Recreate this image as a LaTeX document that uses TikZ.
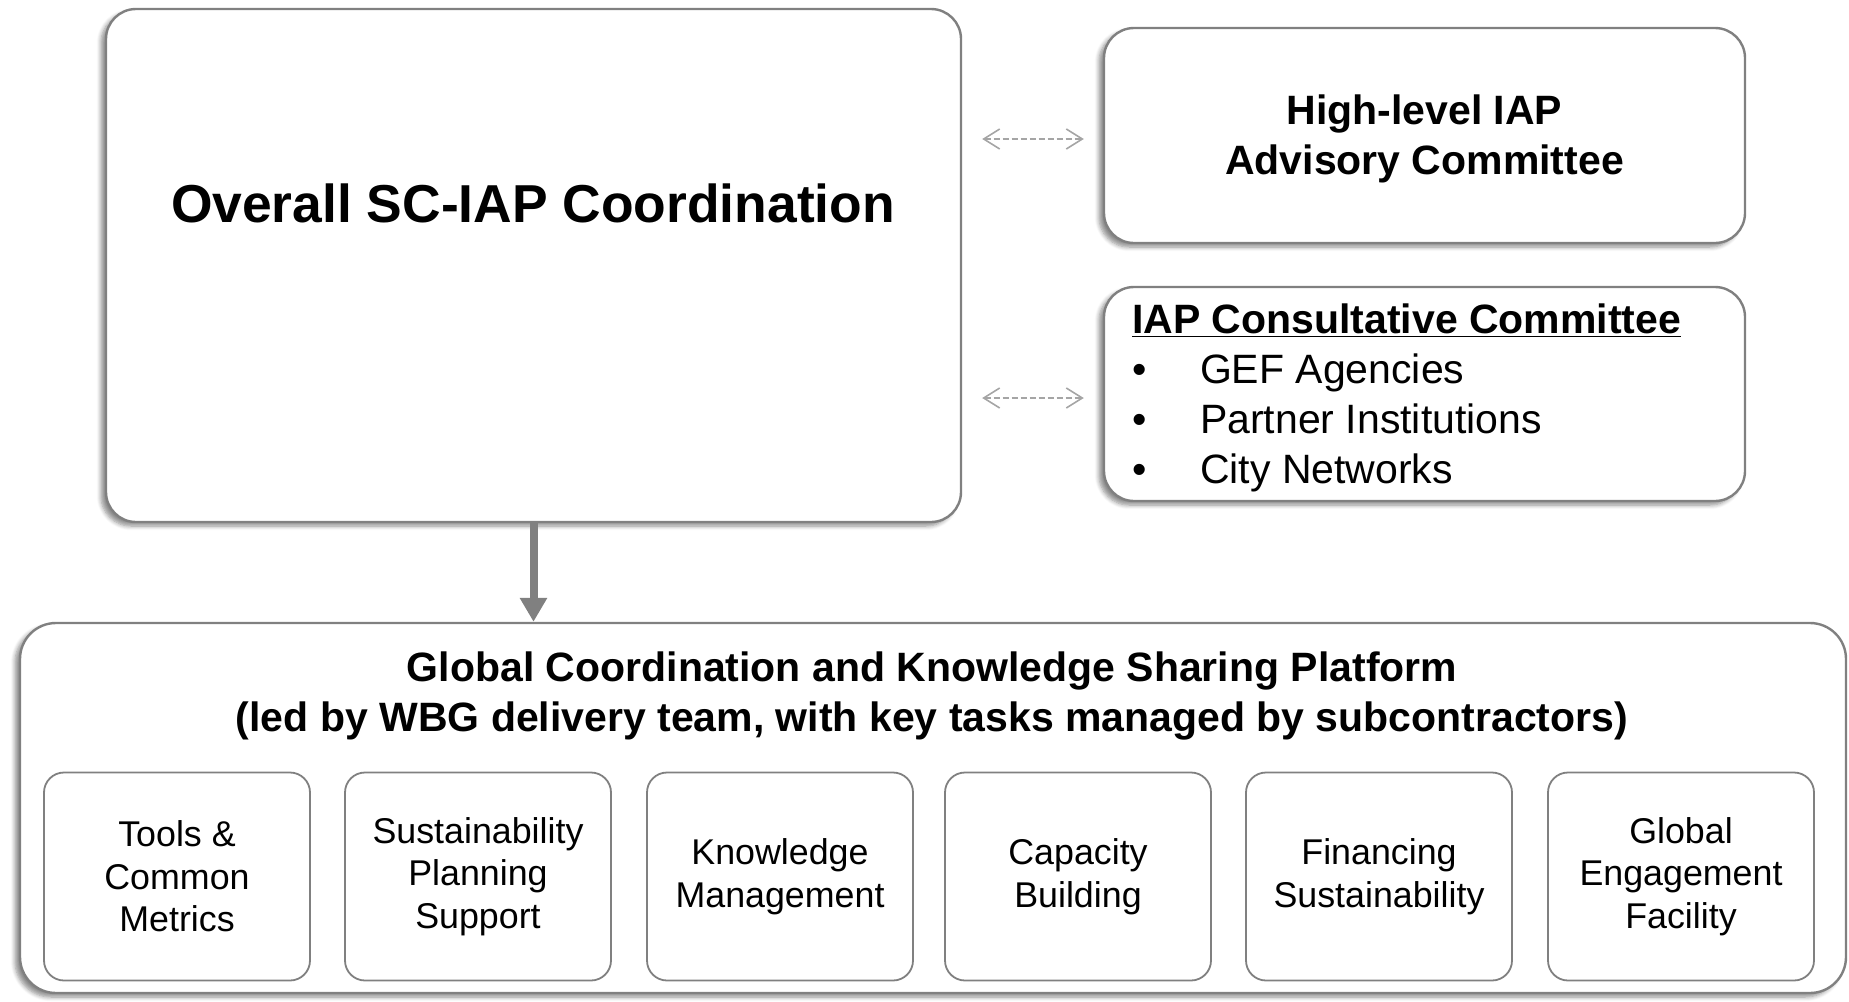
\documentclass[tikz,border=0pt]{standalone}
\usepackage{fontspec}
\setmainfont{Liberation Sans}
\usetikzlibrary{arrows.meta,positioning,shadows.blur}
\definecolor{edgegray}{RGB}{128,128,128}
\definecolor{dashgray}{RGB}{165,165,165}

\begin{document}
\begin{tikzpicture}[
  x=0.5pt, y=-0.5pt,
  panel/.style={draw=edgegray, line width=1.2pt, rounded corners=15pt, fill=white,
    blur shadow={shadow xshift=-2.5pt, shadow yshift=-2pt, shadow opacity=45, shadow blur steps=6}},
  task/.style={draw=edgegray, line width=0.9pt, rounded corners=10pt, minimum width=133pt,
    minimum height=104pt, align=center, font=\fontsize{17.9}{21.25}\selectfont},
  link/.style={{Straight Barb[length=8pt,width=10pt]}-{Straight Barb[length=8pt,width=10pt]},
    dash pattern=on 3pt off 1.5pt, dashgray, line width=0.8pt},
  feed/.style={-{Triangle[length=12pt,width=13pt]}, edgegray, line width=4pt},
  lab/.style={font=\fontsize{20.5}{25}\selectfont\bfseries, align=center}
]
\useasboundingbox (0,0) rectangle (1849,1002);

% Coordination box
\node[panel, minimum width=427.5pt, minimum height=256.5pt] (coord) at (533.5,265.5) {};
\node[font=\fontsize{26.7}{32}\selectfont\bfseries] (coordtitle) at (533,203) {Overall SC-IAP Coordination};

% Committees
\node[panel, minimum width=320.5pt, minimum height=107.5pt] (advisory) at (1424.5,135.5) {};
\node[lab] (advisorytext) at (1424.5,139) {High-level IAP\\Advisory Committee};

\node[panel, minimum width=320.5pt, minimum height=107pt] (consult) at (1424.5,394) {};
\node[anchor=west, align=left, font=\fontsize{20.5}{25}\selectfont] (members) at (1125,398)
{{\bfseries\underline{IAP Consultative Committee}}\\
\makebox[34pt][l]{\textbullet}GEF Agencies\\
\makebox[34pt][l]{\textbullet}Partner Institutions\\
\makebox[34pt][l]{\textbullet}City Networks};

% Links between coordination and committees
\draw[link, shorten <=10pt, shorten >=9.5pt] (coord.east |- advisorytext) -- (advisory.west |- advisorytext);
\draw[link, shorten <=10pt, shorten >=9.5pt] (coord.east |- members.west) -- (consult.west |- members.west);

% Platform
\node[panel, rounded corners=18pt, minimum width=913pt, minimum height=185pt] (platform) at (933,808) {};
\node[lab] (platformtitle) at (932,696)
{Global Coordination and Knowledge Sharing Platform\\
(led by WBG delivery team, with key tasks managed by subcontractors)};

\draw[feed] (coord.south) -- (platform.north -| coord.south);

% Task boxes
\foreach \px/\name/\txt in {177/tools/{Tools \&\\Common\\Metrics},
    478/planning/{Sustainability\\Planning\\Support},
    780/knowledge/{Knowledge\\Management},
    1078/capacity/{Capacity\\Building},
    1379/financing/{Financing\\Sustainability},
    1681/engagement/{Global\\Engagement\\Facility}} {
  \node[task] (\name) at (\px,876.5) {\txt};
}

\end{tikzpicture}
\end{document}
